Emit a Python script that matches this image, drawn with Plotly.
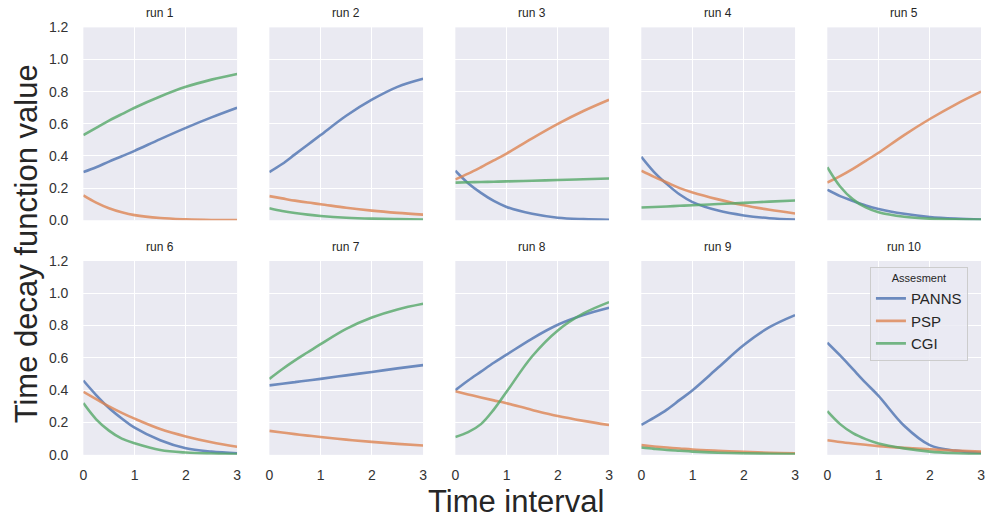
import plotly.graph_objects as go

runs = ["run 1", "run 2", "run 3", "run 4", "run 5",
        "run 6", "run 7", "run 8", "run 9", "run 10"]
x_vals = [0, 0.25, 0.5, 0.75, 1, 1.5, 2, 2.5, 3]
x_ticks = [0, 1, 2, 3]
y_ticks = [0.0, 0.2, 0.4, 0.6, 0.8, 1.0, 1.2]
y_tick_labels = ["0.0", "0.2", "0.4", "0.6", "0.8", "1.0", "1.2"]
series_names = ["PANNS", "PSP", "CGI"]

panns = [
    [0.30, 0.33, 0.365, 0.398, 0.432, 0.505, 0.575, 0.64, 0.70],
    [0.30, 0.35, 0.41, 0.47, 0.53, 0.65, 0.75, 0.83, 0.88],
    [0.308, 0.23, 0.17, 0.12, 0.083, 0.04, 0.016, 0.007, 0.003],
    [0.395, 0.30, 0.225, 0.16, 0.113, 0.06, 0.03, 0.013, 0.005],
    [0.19, 0.15, 0.12, 0.092, 0.07, 0.04, 0.02, 0.01, 0.005],
    [0.46, 0.37, 0.29, 0.225, 0.168, 0.09, 0.04, 0.02, 0.01],
    [0.43, 0.44, 0.45, 0.46, 0.47, 0.492, 0.513, 0.535, 0.555],
    [0.40, 0.46, 0.515, 0.57, 0.62, 0.72, 0.805, 0.865, 0.91],
    [0.185, 0.23, 0.28, 0.34, 0.40, 0.54, 0.68, 0.79, 0.865],
    [0.694, 0.615, 0.53, 0.445, 0.365, 0.18, 0.06, 0.026, 0.013],
]
psp = [
    [0.155, 0.11, 0.075, 0.05, 0.032, 0.014, 0.006, 0.002, 0.001],
    [0.15, 0.136, 0.122, 0.11, 0.10, 0.078, 0.06, 0.046, 0.035],
    [0.254, 0.29, 0.33, 0.372, 0.415, 0.51, 0.60, 0.68, 0.75],
    [0.308, 0.27, 0.235, 0.20, 0.173, 0.13, 0.093, 0.065, 0.042],
    [0.235, 0.275, 0.32, 0.37, 0.42, 0.53, 0.63, 0.72, 0.80],
    [0.39, 0.345, 0.30, 0.26, 0.224, 0.16, 0.114, 0.078, 0.05],
    [0.148, 0.138, 0.128, 0.119, 0.11, 0.094, 0.08, 0.068, 0.058],
    [0.393, 0.374, 0.355, 0.337, 0.319, 0.278, 0.24, 0.21, 0.184],
    [0.06, 0.052, 0.045, 0.039, 0.033, 0.025, 0.018, 0.013, 0.01],
    [0.09, 0.079, 0.07, 0.062, 0.054, 0.043, 0.034, 0.026, 0.02],
]
cgi = [
    [0.53, 0.575, 0.62, 0.66, 0.70, 0.77, 0.83, 0.875, 0.91],
    [0.075, 0.058, 0.045, 0.035, 0.027, 0.016, 0.01, 0.007, 0.005],
    [0.234, 0.236, 0.238, 0.240, 0.242, 0.246, 0.25, 0.255, 0.26],
    [0.079, 0.083, 0.086, 0.09, 0.093, 0.101, 0.108, 0.116, 0.123],
    [0.33, 0.21, 0.13, 0.08, 0.05, 0.022, 0.01, 0.006, 0.004],
    [0.32, 0.22, 0.15, 0.10, 0.072, 0.03, 0.014, 0.008, 0.005],
    [0.47, 0.53, 0.585, 0.635, 0.685, 0.78, 0.85, 0.90, 0.935],
    [0.11, 0.14, 0.19, 0.28, 0.39, 0.61, 0.77, 0.875, 0.945],
    [0.045, 0.037, 0.03, 0.025, 0.02, 0.013, 0.009, 0.007, 0.005],
    [0.27, 0.19, 0.134, 0.097, 0.07, 0.04, 0.02, 0.01, 0.005],
]

colors = ["rgba(76,114,176,0.8)", "rgba(221,132,82,0.8)", "rgba(85,168,104,0.8)"]
W, H = 990, 520
col_left = [80, 267.5, 455, 642.5, 830]
col_w = 155
row_pix = [(20, 219), (261, 461)]

fig = go.Figure()
font_fam = "Liberation Sans, Arial, sans-serif"
tick_color = "#333333"

for i, run in enumerate(runs):
    r, c = divmod(i, 5)
    idx = i + 1
    xa = "x" if idx == 1 else f"x{idx}"
    ya = "y" if idx == 1 else f"y{idx}"
    for s, (name, data) in enumerate(zip(series_names, [panns, psp, cgi])):
        fig.add_trace(go.Scatter(
            x=x_vals, y=data[i], mode="lines", name=name,
            line=dict(color=colors[s], width=2.6, shape="spline", smoothing=1.0),
            xaxis=xa, yaxis=ya, showlegend=(i == 0), legendgroup=name,
        ))
    x0 = col_left[c] / W
    x1 = (col_left[c] + col_w) / W
    top, bot = row_pix[r]
    y0 = 1 - bot / H
    y1 = 1 - top / H
    xkey = "xaxis" if idx == 1 else f"xaxis{idx}"
    ykey = "yaxis" if idx == 1 else f"yaxis{idx}"
    fig.layout[xkey] = dict(
        domain=[x0, x1], range=[0, 3], anchor=ya, tickvals=x_ticks,
        showticklabels=(r == 1), gridcolor="white", gridwidth=1,
        zeroline=False, showline=False, ticks="", ticklabelstandoff=10,
        tickfont=dict(size=14, color=tick_color, family=font_fam),
    )
    fig.layout[ykey] = dict(
        domain=[y0, y1], range=[0, 1.2], anchor=xa, tickvals=y_ticks,
        ticktext=y_tick_labels, showticklabels=(c == 0),
        gridcolor="white", gridwidth=1, zeroline=False, showline=False, ticks="",
        ticklabelstandoff=14,
        tickfont=dict(size=14, color=tick_color, family=font_fam),
    )
    fig.add_annotation(
        text=run, x=(x0 + x1) / 2, y=y1, xref="paper", yref="paper",
        xanchor="center", yanchor="bottom", yshift=5, showarrow=False,
        font=dict(size=12, color="#262626", family=font_fam),
    )

fig.add_annotation(
    text="Time decay function value", x=23 / W, y=1 - 243 / H,
    xref="paper", yref="paper", textangle=-90, showarrow=False,
    xanchor="center", yanchor="middle",
    font=dict(size=31, color="#262626", family=font_fam),
)
fig.add_annotation(
    text="Time interval", x=516 / W, y=1 - 509 / H,
    xref="paper", yref="paper", showarrow=False,
    xanchor="center", yanchor="middle",
    font=dict(size=31, color="#262626", family=font_fam),
)

fig.update_layout(
    width=W, height=H, margin=dict(l=0, r=0, t=0, b=0),
    paper_bgcolor="white", plot_bgcolor="#EAEAF2",
    legend=dict(
        title=dict(text="Assesment", side="top center",
                   font=dict(size=11, color="#262626", family=font_fam)),
        x=873 / W, y=1 - 267 / H, xanchor="left", yanchor="top",
        bgcolor="rgba(234,234,242,0.8)", bordercolor="#cccccc", borderwidth=1,
        font=dict(size=15, color="#262626", family=font_fam),
        tracegroupgap=0,
    ),
)

fig.write_html("out.html")
